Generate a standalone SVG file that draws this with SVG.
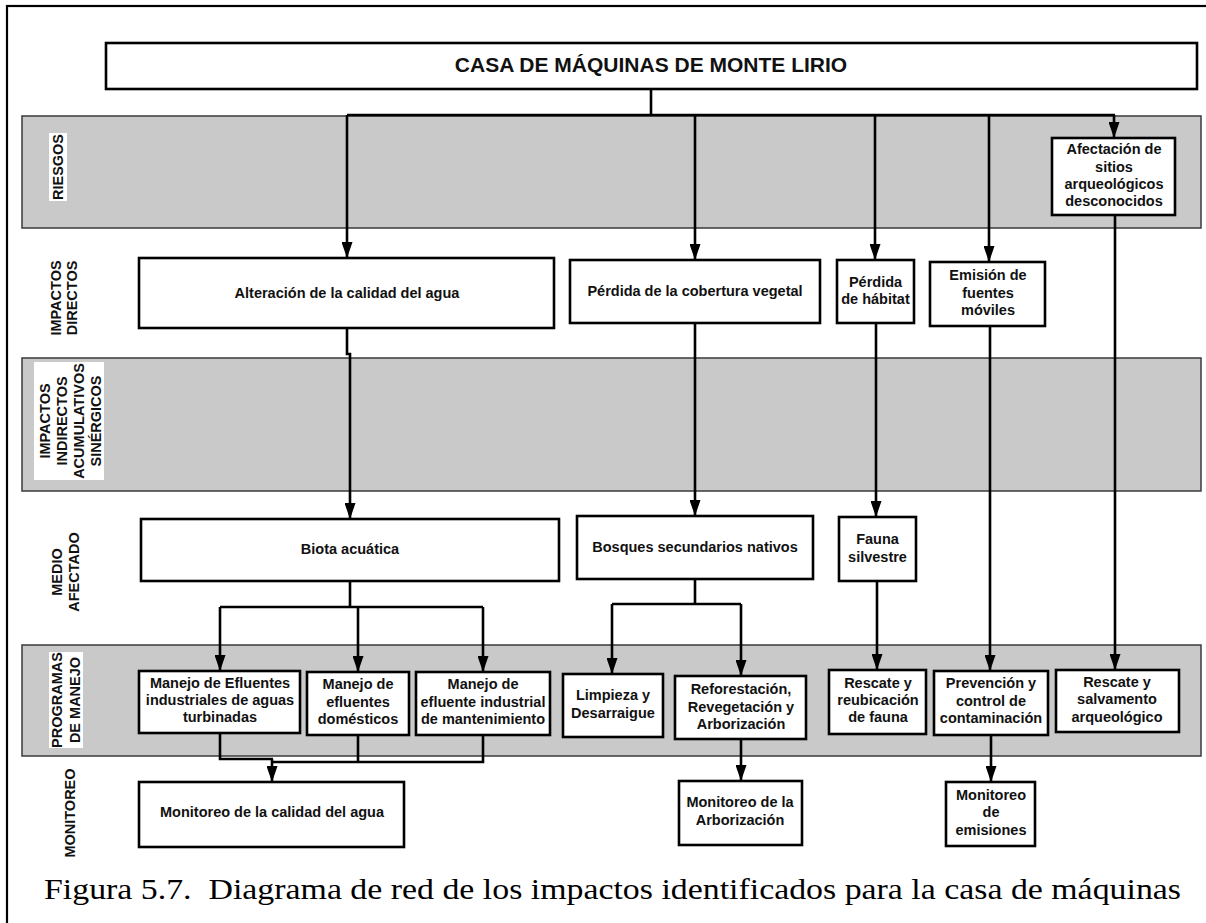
<svg xmlns="http://www.w3.org/2000/svg" width="1206" height="923" viewBox="0 0 1206 923">
<style>
.bg{fill:#ffffff}
.frame{fill:none;stroke:#000;stroke-width:2.2}
.band{fill:#c9c9c9;stroke:#3a3a3a;stroke-width:1.5}
.lblbg{fill:#ffffff}
.box{fill:#ffffff;stroke:#000;stroke-width:2.6}
.t{font-family:"Liberation Sans",Arial,sans-serif;font-weight:bold;font-size:14.5px;fill:#111;text-anchor:middle}
.title{font-size:21px}
.lbl{font-family:"Liberation Sans",Arial,sans-serif;font-weight:bold;font-size:14.5px;fill:#111;text-anchor:middle;dominant-baseline:central}
.cap{font-family:"Liberation Serif","Times New Roman",serif;font-size:30px;fill:#000;white-space:pre}
.c{fill:none;stroke:#000;stroke-width:2.6}
.a{marker-end:url(#arr)}
</style>
<defs>
<marker id="arr" viewBox="0 0 16 11" markerWidth="16" markerHeight="11" refX="16" refY="5.5" orient="auto" markerUnits="userSpaceOnUse">
<path d="M0,0 L16,5.5 L0,11 z" fill="#000"/>
</marker>
</defs>
<rect class="bg" x="0" y="0" width="1206" height="923"/>
<rect class="frame" x="7" y="6" width="1220" height="940"/>

<g id="bands">
<rect class="band" x="22" y="116" width="1179" height="112"/>
<rect class="band" x="22" y="358" width="1179" height="133"/>
<rect class="band" x="22" y="645" width="1179" height="111"/>
</g>

<g id="row-labels">
<rect class="lblbg" x="49" y="133" width="18" height="68"/>
<text class="lbl" transform="translate(58,167) rotate(-90)">RIESGOS</text>
<text class="lbl" transform="translate(56,298) rotate(-90)">IMPACTOS</text>
<text class="lbl" transform="translate(72,298) rotate(-90)">DIRECTOS</text>
<rect class="lblbg" x="34" y="362" width="70" height="118"/>
<text class="lbl" transform="translate(45,421) rotate(-90)">IMPACTOS</text>
<text class="lbl" transform="translate(62,421) rotate(-90)">INDIRECTOS</text>
<text class="lbl" transform="translate(79,421) rotate(-90)">ACUMULATIVOS</text>
<text class="lbl" transform="translate(96,421) rotate(-90)">SINÉRGICOS</text>
<text class="lbl" transform="translate(57,572) rotate(-90)">MEDIO</text>
<text class="lbl" transform="translate(74,572) rotate(-90)">AFECTADO</text>
<rect class="lblbg" x="49" y="652" width="34" height="96"/>
<text class="lbl" transform="translate(57,700) rotate(-90)">PROGRAMAS</text>
<text class="lbl" transform="translate(75,700) rotate(-90)">DE MANEJO</text>
<text class="lbl" transform="translate(70,813) rotate(-90)">MONITOREO</text>
</g>

<g id="connectors">
<path class="c" d="M651,89 V115"/>
<path class="c" d="M347,115 H1115"/>
<path class="c a" d="M347,115 V258"/>
<path class="c a" d="M695,115 V260"/>
<path class="c a" d="M875,115 V260"/>
<path class="c a" d="M989,115 V262"/>
<path class="c a" d="M1114,115 V138"/>
<path class="c a" d="M347,328 V354 H350 V519"/>
<path class="c a" d="M695,323 V516"/>
<path class="c a" d="M876,323 V517"/>
<path class="c a" d="M990,326 V671"/>
<path class="c a" d="M1115,215 V670"/>
<path class="c a" d="M877,581 V670"/>
<path class="c" d="M350,581 V607"/>
<path class="c" d="M220,607 H483"/>
<path class="c a" d="M220,607 V671"/>
<path class="c a" d="M358,607 V672"/>
<path class="c a" d="M483,607 V672"/>
<path class="c" d="M695,579 V604"/>
<path class="c" d="M612,604 H741"/>
<path class="c a" d="M612,604 V674"/>
<path class="c a" d="M741,604 V676"/>
<path class="c" d="M220,733 V759 H273"/>
<path class="c" d="M483,735 V762 H271"/>
<path class="c" d="M358,735 V762"/>
<path class="c a" d="M272,759 V782"/>
<path class="c a" d="M741,739 V781"/>
<path class="c a" d="M991,735 V782"/>
</g>

<g id="n-title">
<rect class="box" x="106" y="43" width="1091" height="46"/>
<text class="t title" x="651" y="72">CASA DE MÁQUINAS DE MONTE LIRIO</text>
</g>
<g id="n-afectacion">
<rect class="box" x="1052" y="138" width="123" height="77"/>
<text class="t" x="1114" y="154">Afectación de</text>
<text class="t" x="1114" y="172">sitios</text>
<text class="t" x="1114" y="189">arqueológicos</text>
<text class="t" x="1114" y="206">desconocidos</text>
</g>
<g id="n-alteracion">
<rect class="box" x="139" y="258" width="415" height="70"/>
<text class="t" x="347" y="298">Alteración de la calidad del agua</text>
</g>
<g id="n-perdida-cobertura">
<rect class="box" x="570" y="260" width="250" height="63"/>
<text class="t" x="695" y="296">Pérdida de la cobertura vegetal</text>
</g>
<g id="n-perdida-habitat">
<rect class="box" x="837" y="260" width="77" height="63"/>
<text class="t" x="875.5" y="287">Pérdida</text>
<text class="t" x="875.5" y="304">de hábitat</text>
</g>
<g id="n-emision">
<rect class="box" x="930" y="262" width="115" height="64"/>
<text class="t" x="988" y="280">Emisión de</text>
<text class="t" x="988" y="298">fuentes</text>
<text class="t" x="988" y="315">móviles</text>
</g>
<g id="n-biota">
<rect class="box" x="141" y="519" width="418" height="62"/>
<text class="t" x="350" y="554">Biota acuática</text>
</g>
<g id="n-bosques">
<rect class="box" x="577" y="516" width="236" height="63"/>
<text class="t" x="695" y="552">Bosques secundarios nativos</text>
</g>
<g id="n-fauna">
<rect class="box" x="839" y="517" width="77" height="64"/>
<text class="t" x="877.5" y="544">Fauna</text>
<text class="t" x="877.5" y="562">silvestre</text>
</g>
<g id="n-manejo1">
<rect class="box" x="139" y="671" width="161" height="62"/>
<text class="t" x="220" y="688">Manejo de Efluentes</text>
<text class="t" x="220" y="705">industriales de aguas</text>
<text class="t" x="220" y="722">turbinadas</text>
</g>
<g id="n-manejo2">
<rect class="box" x="307" y="672" width="102" height="63"/>
<text class="t" x="358" y="689">Manejo de</text>
<text class="t" x="358" y="707">efluentes</text>
<text class="t" x="358" y="724">domésticos</text>
</g>
<g id="n-manejo3">
<rect class="box" x="416" y="672" width="134" height="63"/>
<text class="t" x="483" y="689">Manejo de</text>
<text class="t" x="483" y="707">efluente industrial</text>
<text class="t" x="483" y="724">de mantenimiento</text>
</g>
<g id="n-limpieza">
<rect class="box" x="563" y="674" width="100" height="63"/>
<text class="t" x="613" y="700">Limpieza y</text>
<text class="t" x="613" y="718">Desarraigue</text>
</g>
<g id="n-reforestacion">
<rect class="box" x="675" y="676" width="131" height="63"/>
<text class="t" x="741" y="694">Reforestación,</text>
<text class="t" x="741" y="712">Revegetación y</text>
<text class="t" x="741" y="729">Arborización</text>
</g>
<g id="n-rescate-fauna">
<rect class="box" x="829" y="670" width="97" height="64"/>
<text class="t" x="878" y="688">Rescate y</text>
<text class="t" x="878" y="705">reubicación</text>
<text class="t" x="878" y="722">de fauna</text>
</g>
<g id="n-prevencion">
<rect class="box" x="934" y="671" width="114" height="64"/>
<text class="t" x="991" y="688">Prevención y</text>
<text class="t" x="991" y="706">control de</text>
<text class="t" x="991" y="723">contaminación</text>
</g>
<g id="n-rescate-arq">
<rect class="box" x="1056" y="670" width="123" height="62"/>
<text class="t" x="1117" y="687">Rescate y</text>
<text class="t" x="1117" y="704">salvamento</text>
<text class="t" x="1117" y="722">arqueológico</text>
</g>
<g id="n-monitoreo-agua">
<rect class="box" x="139" y="782" width="265" height="65"/>
<text class="t" x="272" y="817">Monitoreo de la calidad del agua</text>
</g>
<g id="n-monitoreo-arb">
<rect class="box" x="679" y="781" width="123" height="64"/>
<text class="t" x="740" y="807">Monitoreo de la</text>
<text class="t" x="740" y="825">Arborización</text>
</g>
<g id="n-monitoreo-emis">
<rect class="box" x="946" y="782" width="89" height="64"/>
<text class="t" x="991" y="800">Monitoreo</text>
<text class="t" x="991" y="817">de</text>
<text class="t" x="991" y="835">emisiones</text>
</g>

<text class="cap" x="44" y="899" textLength="1137" lengthAdjust="spacingAndGlyphs" xml:space="preserve">Figura 5.7.  Diagrama de red de los impactos identificados para la casa de máquinas</text>
</svg>
